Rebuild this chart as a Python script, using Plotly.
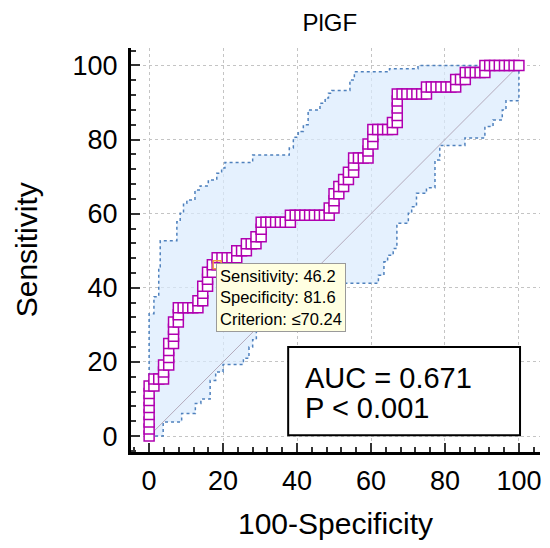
import plotly.graph_objects as go

# ROC points, 100-Specificity (%) and Sensitivity (%)
fpr = [0, 0, 0, 0, 0, 0, 0, 0,
       1.3, 1.3, 2.6, 3.9, 3.9, 3.9, 5.3, 5.3, 5.3, 5.3, 6.6, 6.6, 6.6, 6.6, 7.9, 7.9, 7.9, 9.2, 10.5, 11.8, 13.2,
       13.2, 14.5, 14.5, 14.5, 15.8, 15.8, 15.8, 17.1, 17.1, 18.4,
       18.4, 19.7, 21.1, 22.4, 23.7, 23.7, 25.0, 26.3, 26.3, 27.6, 28.9, 28.9, 30.3, 30.3, 30.3, 31.6, 32.9, 34.2, 35.5, 36.8, 38.2,
       38.2, 39.5, 40.8, 42.1, 43.4, 44.7, 46.1, 47.4, 48.7,
       48.7, 50.0, 50.0, 50.0, 51.3, 51.3, 52.6, 52.6, 53.9, 53.9, 55.3, 55.3, 55.3, 56.6, 57.9, 59.2,
       59.2, 59.2, 60.5, 60.5, 60.5, 61.8, 63.2, 64.5, 65.8,
       65.8, 67.1, 67.1, 67.1, 67.1, 67.1, 68.4, 69.7, 71.1, 72.4, 73.7, 75.0,
       75.0, 76.3, 77.6, 78.9, 80.3, 81.6, 82.9,
       82.9, 84.2, 85.5,
       85.5, 86.8, 88.2, 89.5, 90.8,
       90.8, 92.1, 93.4, 94.7, 96.1, 97.4, 98.7, 100]
tpr = [0, 1.9, 3.8, 5.8, 7.7, 9.6, 11.5, 13.5,
       13.5, 15.4, 15.4, 15.4, 17.3, 19.2, 19.2, 21.2, 23.1, 25.0, 25.0, 26.9, 28.8, 30.8, 30.8, 32.7, 34.6, 34.6, 34.6, 34.6, 34.6,
       36.5, 36.5, 38.5, 40.4, 40.4, 42.3, 44.2, 44.2, 46.2, 46.2,
       48.1, 48.1, 48.1, 48.1, 48.1, 50.0, 50.0, 50.0, 51.9, 51.9, 51.9, 53.8, 53.8, 55.8, 57.7, 57.7, 57.7, 57.7, 57.7, 57.7, 57.7,
       59.6, 59.6, 59.6, 59.6, 59.6, 59.6, 59.6, 59.6, 59.6,
       61.5, 61.5, 63.5, 65.4, 65.4, 67.3, 67.3, 69.2, 69.2, 71.2, 71.2, 73.1, 75.0, 75.0, 75.0, 75.0,
       76.9, 78.8, 78.8, 80.8, 82.7, 82.7, 82.7, 82.7, 82.7,
       84.6, 84.6, 86.5, 88.5, 90.4, 92.3, 92.3, 92.3, 92.3, 92.3, 92.3, 92.3,
       94.2, 94.2, 94.2, 94.2, 94.2, 94.2, 94.2,
       96.2, 96.2, 96.2,
       98.1, 98.1, 98.1, 98.1, 98.1,
       100, 100, 100, 100, 100, 100, 100, 100]

# confidence band, upper and lower bound
upper_x = [0, 0, 1.3, 1.3, 2.6, 2.6, 3, 3, 7.5, 7.5, 8.4, 8.4, 9.3, 9.3, 10.2, 10.2, 12.4, 12.4,
           13.8, 13.8, 16, 16, 18.3, 18.3, 19.6, 19.6, 20.5, 20.5, 28, 28, 37.9, 37.9, 39, 39,
           40.3, 40.3, 41.7, 41.7, 43, 43, 46.2, 46.2, 47.6, 47.6, 48.5, 48.5, 49.4, 49.4,
           54.3, 54.3, 55.5, 55.5, 65, 65, 72.7, 72.7, 100]
upper_y = [0, 33, 33, 37.6, 37.6, 45.7, 45.7, 52.7, 52.7, 57.8, 57.8, 60.1, 60.1, 62.8, 62.8, 63.7, 63.7, 66.4,
           66.4, 67.5, 67.5, 69.1, 69.1, 70.9, 70.9, 72.3, 72.3, 73.8, 73.8, 75.8, 75.8, 77.7, 77.7, 80.6,
           80.6, 82.2, 82.2, 84, 84, 88, 88, 89.8, 89.8, 91.2, 91.2, 92.5, 92.5, 93.2,
           93.2, 96.1, 96.1, 98.3, 98.3, 99.1, 99.1, 100, 100]
lower_x = [0, 3.8, 3.8, 8.8, 8.8, 12.5, 12.5, 14, 14, 16.5, 16.5, 18, 18, 20, 20, 25.5, 25.5, 27, 27,
           28, 28, 29, 29, 31, 31, 33, 33, 36, 36, 41, 41, 46, 46, 50, 50, 62, 62, 63.5, 63.5,
           64.5, 64.5, 66, 66, 67, 67, 70.1, 70.1, 71, 71, 72.3, 72.3, 75, 75, 77.3, 77.3,
           78.6, 78.6, 85.4, 85.4, 90.8, 90.8, 93, 93, 95.5, 95.5, 96.5, 96.5, 100, 100]
lower_y = [0, 0, 3.8, 3.8, 6.1, 6.1, 8.8, 8.8, 10, 10, 15, 15, 17.3, 17.3, 19.3, 19.3, 21, 21, 24,
           24, 26, 26, 28.6, 28.6, 31, 31, 34, 34, 36.5, 36.5, 38.5, 38.5, 40, 40, 41.2, 41.2, 43.4, 43.4, 47,
           47, 48.8, 48.8, 50.6, 50.6, 57.4, 57.4, 60.1, 60.1, 61.9, 61.9, 65.5, 65.5, 67, 67, 74.5,
           74.5, 78.4, 78.4, 80.4, 80.4, 83.5, 83.5, 85.3, 85.3, 88, 88, 90.5, 90.5, 100]

ticks = [0, 20, 40, 60, 80, 100]
auc_text = ["AUC = 0.671", "P < 0.001"]
tip_text = ["Sensitivity: 46.2", "Specificity: 81.6", "Criterion: \u226470.24"]
cut_x, cut_y = 18.4, 46.2

font = "Liberation Sans, Arial, sans-serif"
roc_col = "#b000b0"
band_col = "#4f81bd"

fig = go.Figure()

# band fill
fig.add_trace(go.Scatter(x=lower_x + upper_x[::-1], y=lower_y + upper_y[::-1],
                         fill="toself", fillcolor="rgba(218,235,253,0.7)",
                         line=dict(width=0), mode="lines", hoverinfo="skip"))
for bx, by in [(upper_x, upper_y), (lower_x, lower_y)]:
    fig.add_trace(go.Scatter(x=bx, y=by, mode="lines",
                             line=dict(color=band_col, width=1.5, dash="dot")))

# reference diagonal
fig.add_trace(go.Scatter(x=[0, 100], y=[0, 100], mode="lines",
                         line=dict(color="#b4aabb", width=1)))

fig.add_trace(go.Scatter(x=fpr, y=tpr, mode="lines+markers",
                         line=dict(color=roc_col, width=1.5),
                         marker=dict(symbol="square", size=10, color="white",
                                     line=dict(color=roc_col, width=1.5))))
fig.add_trace(go.Scatter(x=[cut_x], y=[cut_y], mode="markers",
                         marker=dict(symbol="square", size=8, color="rgba(0,0,0,0)",
                                     line=dict(color="#f0a040", width=1.5))))

axis = dict(showline=True, linecolor="black", linewidth=3, mirror=False,
            ticks="inside", ticklen=9, tickwidth=2, tickcolor="#333",
            tickvals=ticks, showgrid=True, gridcolor="#c4c4c4", griddash="dot",
            gridwidth=1, zeroline=False, tickfont=dict(size=27, color="black"),
            minor=dict(ticks="inside", ticklen=5, tickwidth=1.5, tickcolor="#333",
                       dtick=4, showgrid=False),
            automargin=False)

# page body adds ~8px offset, margins compensate
fig.update_layout(
    width=550, height=548,
    margin=dict(l=123, r=18, t=40, b=104),
    paper_bgcolor="white", plot_bgcolor="white",
    showlegend=False,
    font=dict(family=font, color="black"),
    title=dict(text="PlGF", x=0.585, xanchor="center", y=0.974, yanchor="middle",
               font=dict(size=24)),
    xaxis=dict(axis, range=[-4.9, 105.7], ticklabelstandoff=3,
               title=dict(text="100-Specificity", font=dict(size=30), standoff=18)),
    yaxis=dict(axis, range=[-4.3, 104.7], ticklabelstandoff=5),
)

# y axis title placed by hand (axis title is clamped to the margin)
fig.add_annotation(x=-0.256, y=0.5, xref="paper", yref="paper", text="Sensitivity",
                   textangle=-90, showarrow=False, xanchor="center", yanchor="middle",
                   font=dict(size=30))

# AUC box
fig.add_shape(type="rect", x0=37.6, x1=100.3, y0=0.2, y1=24, xref="x", yref="y",
              line=dict(color="black", width=2), fillcolor="white", layer="above")
for txt, yy in zip(auc_text, [15.8, 7.5]):
    fig.add_annotation(x=41.5, y=yy, xref="x", yref="y", text=txt, showarrow=False,
                       xanchor="left", yanchor="middle", font=dict(size=29))

# hover tooltip
fig.add_annotation(x=18.1, y=46.6, xref="x", yref="y", text="<br>".join(tip_text),
                   showarrow=False, xanchor="left", yanchor="top", align="left",
                   bgcolor="#ffffe1", bordercolor="#9a9a9a", borderwidth=1, borderpad=3,
                   font=dict(size=16.5))

fig.write_html("out.html")
